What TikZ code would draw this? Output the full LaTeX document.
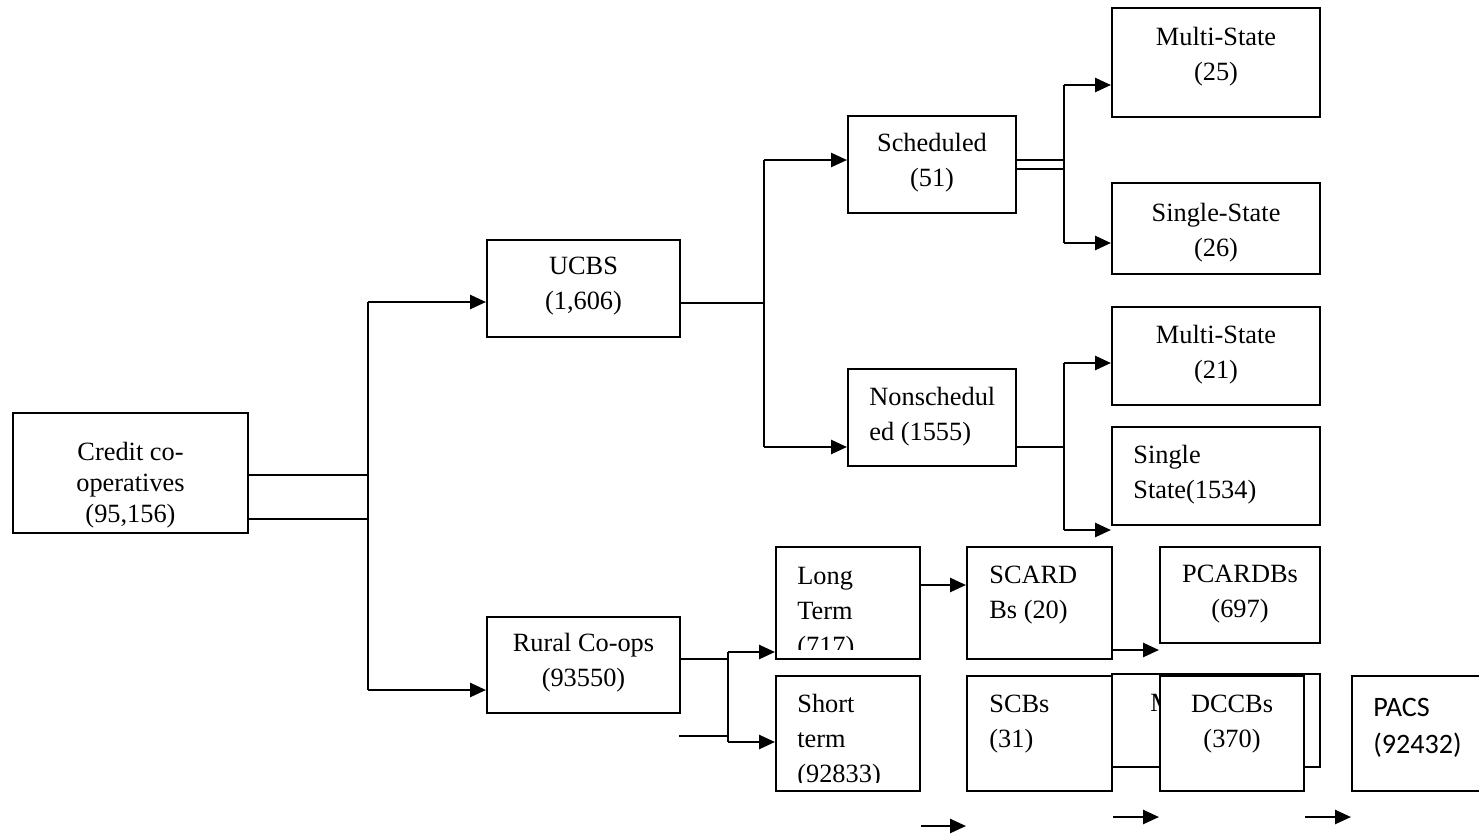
\documentclass[tikz,border=0pt]{standalone}
\usepackage{fontspec}
\setmainfont{Liberation Serif}
\newfontfamily\calibri{Carlito}
\usetikzlibrary{arrows.meta}
\newlength{\pxu}
\setlength{\pxu}{0.02cm}
\tikzset{
  box/.style 2 args={draw, line width=1.2pt, inner sep=0pt, minimum width=#1\pxu, minimum height=#2\pxu},
  lbl/.style={inner sep=0pt, anchor=north, align=center, font=\fontsize{15}{20}\selectfont},
  lbll/.style={lbl, anchor=north west, align=left},
  link/.style={line width=1.2pt},
  arr/.style={link, -{Triangle[length=9pt,width=8pt]}},
}

\begin{document}
\begin{tikzpicture}[x=0.02cm, y=-0.02cm]
  \clip (0,0) rectangle (1479,835);
  \fill[white] (0,0) rectangle (1479,835);

  % boxes
  \node[box={235}{120}] (credit) at (130.5,473) {};
  \node[box={193}{97}] (ucbs) at (583.5,288.5) {};
  \node[box={193}{96}] (rural) at (583.5,665) {};
  \node[box={168}{97}] (sched) at (932,164.5) {};
  \node[box={168}{97}] (nonsched) at (932,417.5) {};
  \node[box={208}{109}] (multiA) at (1216,62.5) {};
  \node[box={208}{91}] (singleA) at (1216,228.5) {};
  \node[box={208}{98}] (multiB) at (1216,356) {};
  \node[box={208}{98}] (singleB) at (1216,476) {};
  \node[box={144}{112}] (long) at (848,603) {};
  \node[box={144}{115}] (short) at (848,733.5) {};
  \node[box={145}{112}] (scard) at (1039.5,603) {};
  \node[box={145}{115}] (scb) at (1039.5,733.5) {};
  \node[box={160}{96}] (pcard) at (1240,595) {};
  \node[box={208}{93}] (multiC) at (1216,720.5) {};
  \node[lbll] (multiC-t) at (1150,693) {Multi-State};
  \node[box={144}{115}, fill=white] (dccb) at (1232,733.5) {};
  \node[box={148}{115}] (pacs) at (1426,733.5) {};

  % labels
  \node[lbl, font=\fontsize{15}{17.6}\selectfont] (credit-t) at (credit.north |- 0,442) {Credit co-\\operatives\\(95,156)};
  \node[lbl] (ucbs-t) at (ucbs.north |- 0,257) {UCBS\\(1,606)};
  \node[lbl] (rural-t) at (rural.north |- 0,633) {Rural Co-ops\\(93550)};
  \node[lbl] (sched-t) at (sched.north |- 0,133) {Scheduled\\(51)};
  \node[lbll] (nonsched-t) at (869,387) {Nonschedul\\ed (1555)};
  \node[lbl] (multiA-t) at (multiA.north |- 0,27) {Multi-State\\(25)};
  \node[lbl] (singleA-t) at (singleA.north |- 0,203) {Single-State\\(26)};
  \node[lbl] (multiB-t) at (multiB.north |- 0,325) {Multi-State\\(21)};
  \node[lbll] (singleB-t) at (1133,445) {Single\\State(1534)};
  \node[lbll] (scard-t) at (989,566) {SCARD\\Bs (20)};
  \node[lbll] (scb-t) at (989,695) {SCBs\\(31)};
  \node[lbl] (pcard-t) at (pcard.north |- 0,565) {PCARDBs\\(697)};
  \node[lbl] (dccb-t) at (dccb.north |- 0,695) {DCCBs\\(370)};
  \node[lbll, font=\calibri\fontsize{16}{21}\selectfont] (pacs-t) at (1373,698) {PACS\\(92432)};
  \begin{scope}
    \clip (776,547) rectangle (920,649);
    \node[lbll] (long-t) at (797,567) {Long\\Term\\(717)};
  \end{scope}
  \begin{scope}
    \clip (776,676) rectangle (920,782);
    \node[lbll] (short-t) at (797,694) {Short\\term\\(92833)};
  \end{scope}

  % credit co-operatives
  \coordinate (ctop) at (368,302);
  \coordinate (cbot) at (368,690);
  \draw[link] (credit.east |- 0,475) -- (ctop |- 0,475);
  \draw[link] (credit.east |- 0,519) -- (ctop |- 0,519);
  \draw[link] (ctop) -- (cbot);
  \draw[arr] (ctop) -- (ucbs.west |- ctop);
  \draw[arr] (cbot) -- (rural.west |- cbot);

  % ucbs
  \coordinate (utop) at (764,160);
  \coordinate (ubot) at (764,447);
  \draw[link] (ucbs.east |- 0,303) -- (utop |- 0,303);
  \draw[link] (utop) -- (ubot);
  \draw[arr] (utop) -- (sched.west |- utop);
  \draw[arr] (ubot) -- (nonsched.west |- ubot);

  % scheduled
  \coordinate (stop) at (1064,85);
  \coordinate (sbot) at (1064,243);
  \draw[link] (sched.east |- 0,160) -- (stop |- 0,160);
  \draw[link] (sched.east |- 0,169) -- (stop |- 0,169);
  \draw[link] (stop) -- (sbot);
  \draw[arr] (stop) -- (multiA.west |- stop);
  \draw[arr] (sbot) -- (singleA.west |- sbot);

  % nonscheduled
  \coordinate (ntop) at (1064,363);
  \coordinate (nbot) at (1064,530);
  \draw[link] (nonsched.east |- 0,447) -- (ntop |- 0,447);
  \draw[link] (ntop) -- (nbot);
  \draw[arr] (ntop) -- (multiB.west |- ntop);
  \draw[arr] (nbot) -- (singleB.west |- nbot);

  % rural
  \coordinate (rtop) at (728,652);
  \coordinate (rbot) at (728,742);
  \coordinate (stray) at (679,736);
  \draw[link] (rural.east |- 0,659) -- (rtop |- 0,659);
  \draw[link] (rtop) -- (rbot);
  \draw[link] (stray) -- (rbot |- stray);
  \draw[arr] (rtop) -- (long.west |- rtop);
  \draw[arr] (rbot) -- (short.west |- rbot);
  \draw[arr] (long.east |- 0,585) -- (scard.west |- 0,585);
  \draw[arr] (scard.east |- 0,650) -- (pcard.west |- 0,650);

  % loose arrows
  \draw[arr] (long.east |- 0,826) -- (scard.west |- 0,826);
  \draw[arr] (scb.east |- 0,817) -- (dccb.west |- 0,817);
  \draw[arr] (dccb.east |- 0,817) -- (pacs.west |- 0,817);
\end{tikzpicture}
\end{document}
